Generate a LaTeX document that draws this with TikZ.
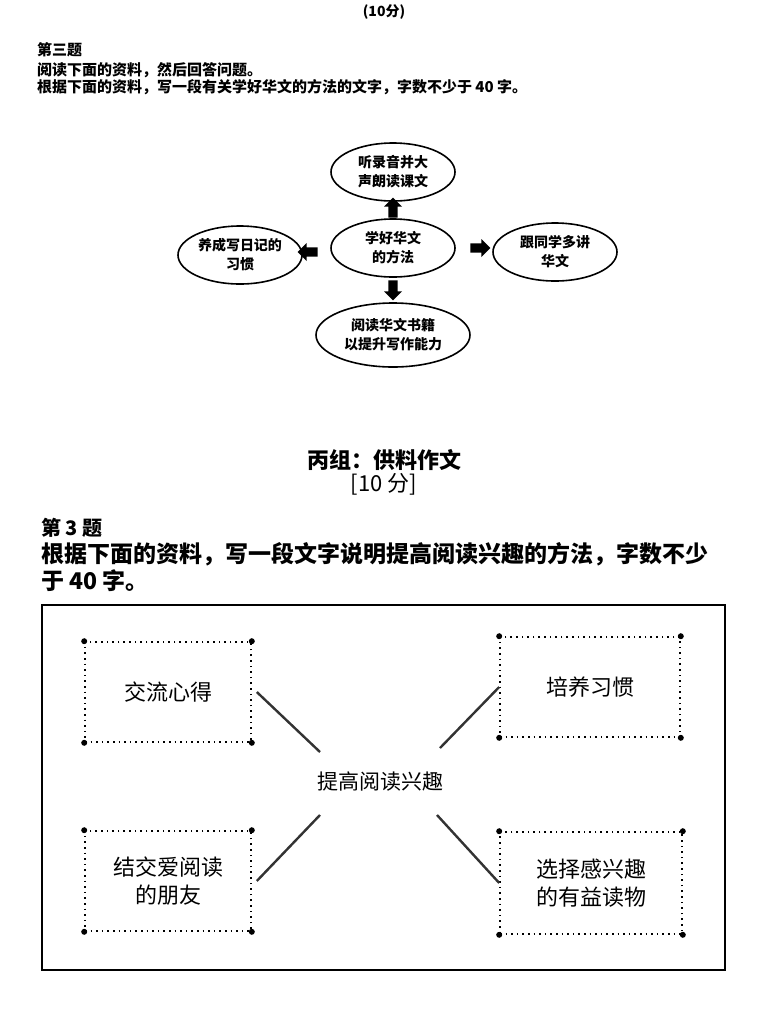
\documentclass[tikz,border=0pt]{standalone}
\usepackage{fontspec}
\setmainfont{Noto Sans CJK SC}
\usetikzlibrary{shapes.geometric,shapes.arrows}
\tikzset{
  oval/.style={ellipse,draw,thick,minimum width=62pt,minimum height=29pt,inner sep=0pt,align=center,font=\fontsize{7}{9.5}\selectfont\bfseries},
  fat/.style={single arrow,fill=black,minimum height=10pt,minimum width=9pt,single arrow head extend=2pt,single arrow head indent=0pt,inner sep=2pt},
  dbox/.style={draw,dotted,thick,minimum width=83pt,minimum height=50pt,align=center,font=\fontsize{11}{14}\selectfont},
  dot/.style={circle,fill=black,inner sep=0pt,minimum size=3pt},
  tie/.style={line width=1.2pt,black!80}
}
\begin{document}
\begin{tikzpicture}[x=0.5pt,y=-0.5pt]
    \useasboundingbox (0,0) rectangle (768,1024);
    % Top part
    \node[font=\fontsize{7}{8}\selectfont\bfseries] (score) at (384,12) {(10分)};
    \begin{scope}[anchor=west,font=\fontsize{7.5}{8}\selectfont\bfseries]
        \node (q3) at (30,50) {第三题};
        \node (l1) at (30,70) {阅读下面的资料，然后回答问题。};
        \node (l2) at (30,87) {根据下面的资料，写一段有关学好华文的方法的文字，字数不少于 40 字。};
    \end{scope}

    \node[oval] (ctr) at (393,248) {学好华文\\的方法};
    \node[oval] (up) at (393,172) {听录音并大\\声朗读课文};
    \node[oval] (lt) at (240,255) {养成写日记的\\习惯};
    \node[oval] (rt) at (555,252) {跟同学多讲\\华文};
    \node[oval,minimum width=77pt,minimum height=32pt] (dn) at (393,335) {阅读华文书籍\\以提升写作能力};
    \node[fat,rotate=90] (aup) at (393,210) {};
    \node[fat,rotate=180] (alt) at (310,252) {};
    \node[fat] (art) at (478,248) {};
    \node[fat,rotate=-90] (adn) at (393,288) {};

    % Bottom part
    \node[font=\fontsize{11}{13}\selectfont\bfseries] (grp) at (384,460) {丙组：供料作文};
    \node[font=\fontsize{11}{13}\selectfont] (pts) at (384,484) {[10 分]};
    \begin{scope}[anchor=west,font=\fontsize{11.5}{14}\selectfont\bfseries]
        \node[font=\fontsize{10}{12}\selectfont\bfseries] (q) at (34,528) {第 3 题};
        \node (t1) at (34,554) {根据下面的资料，写一段文字说明提高阅读兴趣的方法，字数不少};
        \node (t2) at (34,581) {于 40 字。};
    \end{scope}
    \draw[thick] (42,605) rectangle (725,970);

    \node[font=\fontsize{10.5}{12}\selectfont] (main) at (380,782) {提高阅读兴趣};
    \node[dbox] (tl) at (168,692) {交流心得};
    \node[dbox,minimum width=90pt] (tr) at (590,687) {培养习惯};
    \node[dbox] (bl) at (168,881) {结交爱阅读\\的朋友};
    \node[dbox,minimum width=91pt,minimum height=51pt] (br) at (591,883) {选择感兴趣\\的有益读物};
    \foreach \b in {tl,tr,bl,br} {
        \foreach \c in {north west,north east,south west,south east}
            \node[dot] at (\b.\c) {};
    }
    \coordinate (ctl) at (320,752);
    \coordinate (ctr2) at (440,748);
    \coordinate (cbl) at (320,815);
    \coordinate (cbr) at (437,815);
    \draw[tie] (tl.east) ++(5,0) coordinate (e1) -- (ctl);
    \draw[tie] (tr.west) -- (ctr2);
    \draw[tie] (bl.east) ++(5,0) -- (cbl);
    \draw[tie] (br.west) -- (cbr);
\end{tikzpicture}
\end{document}
